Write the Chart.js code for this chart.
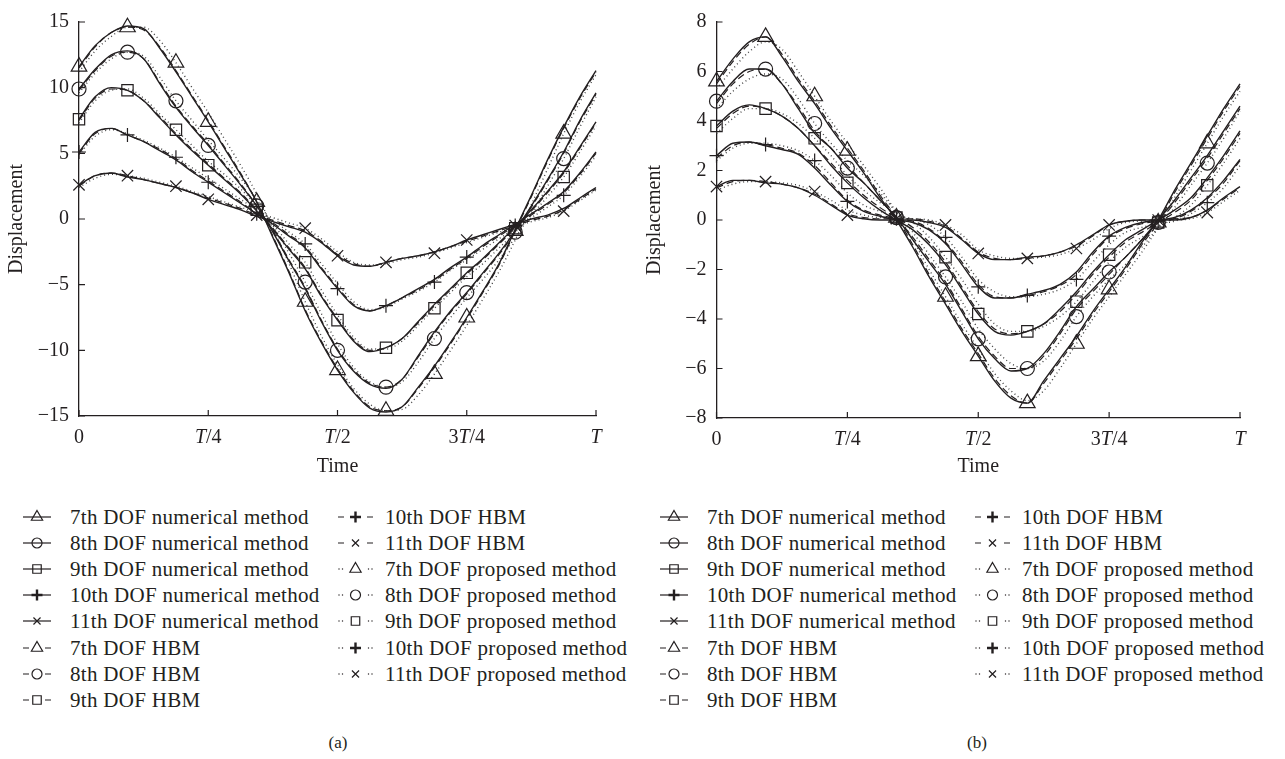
<!DOCTYPE html>
<html lang="en">
<head>
<meta charset="UTF-8">
<title>Displacement vs time</title>
<script src="https://cdn.jsdelivr.net/npm/chart.js"></script>
<style>
  body { margin: 0; width: 1285px; height: 759px; background: #fff; position: relative; overflow: hidden;
         font-family: "Liberation Serif", "DejaVu Serif", serif; color: #231f20; }
  .panel { position: absolute; top: 0; }
  .leg-sym { position: absolute; }
  .leg-text { position: absolute; height: 26px; line-height: 26px; font-size: 21px; letter-spacing: 0.3px; white-space: nowrap; }
  .caption { position: absolute; top: 733px; font-size: 17px; transform: translateX(-50%); }
</style>
</head>
<body>
<canvas id="chartA" class="panel" width="640" height="480" style="left:0px"></canvas>
<canvas id="chartB" class="panel" width="647" height="480" style="left:638px"></canvas>
<div id="legend"></div>
<div class="caption" style="left:338px">(a)</div>
<div class="caption" style="left:977px">(b)</div>
<script>
// time in fractions of the period T
const t = [0, 0.03125, 0.0625, 0.09375, 0.125, 0.15625, 0.1875, 0.21875, 0.25, 0.28125, 0.3125,
  0.34375, 0.375, 0.40625, 0.4375, 0.46875, 0.5, 0.53125, 0.5625, 0.59375, 0.625, 0.65625, 0.6875,
  0.71875, 0.75, 0.78125, 0.8125, 0.84375, 0.875, 0.90625, 0.9375, 0.96875, 1];
const xTickValues = [0, 0.25, 0.5, 0.75, 1];
const xTickLabels = ['0', 'T/4', 'T/2', '3T/4', 'T'];

// panel (a) - numerical method
const n7a = [11.6,13.2,14.2,14.7,14.5,13.0,11.2,9.3,7.4,5.4,3.4,1.3,-1.4,-4.1,-7.0,-9.4,-11.5,-13.2,-14.4,-14.7,-14.3,-12.8,-11.2,-9.4,-7.5,-5.5,-3.4,-0.8,1.8,4.5,7.0,9.3,11.3];
const n8a = [9.9,11.4,12.5,12.8,12.2,10.3,8.5,7.0,5.6,4.1,2.6,1.0,-1.0,-3.2,-5.3,-7.8,-10.0,-11.6,-12.6,-12.9,-12.2,-10.4,-8.6,-7.0,-5.6,-4.1,-2.6,-0.9,1.0,3.0,5.1,7.5,9.6];
const n9a = [7.6,9.3,10.0,9.8,9.0,7.7,6.4,5.2,4.1,3.0,1.9,0.6,-0.8,-2.3,-3.8,-5.9,-7.7,-9.3,-10.1,-9.8,-9.1,-7.8,-6.5,-5.3,-4.1,-3.0,-1.8,-0.6,0.7,2.1,3.6,5.5,7.4];
const n10a = [5.1,6.6,6.9,6.4,5.9,5.2,4.5,3.6,2.8,2.0,1.2,0.4,-0.4,-1.3,-2.2,-3.8,-5.3,-6.6,-7.0,-6.6,-6.0,-5.3,-4.6,-3.7,-2.9,-2.0,-1.2,-0.4,0.4,1.2,2.1,3.5,5.1];
const n11a = [2.6,3.3,3.5,3.2,3.0,2.7,2.4,2.0,1.5,1.1,0.7,0.2,-0.2,-0.6,-1.0,-1.8,-2.8,-3.5,-3.6,-3.3,-3.0,-2.8,-2.5,-2.1,-1.6,-1.2,-0.8,-0.4,0.0,0.3,0.8,1.6,2.4];
// panel (a) - HBM
const h7a = [11.5,13.1,14.2,14.6,14.4,13.1,11.3,9.4,7.5,5.5,3.5,1.3,-1.3,-4.0,-6.9,-9.3,-11.4,-13.1,-14.3,-14.6,-14.3,-12.9,-11.3,-9.5,-7.6,-5.6,-3.5,-0.9,1.7,4.4,6.9,9.2,11.2];
const h8a = [9.8,11.3,12.4,12.7,12.2,10.4,8.6,7.1,5.7,4.2,2.7,1.0,-0.9,-3.1,-5.2,-7.7,-9.9,-11.5,-12.5,-12.8,-12.2,-10.5,-8.7,-7.1,-5.7,-4.2,-2.7,-1.0,0.9,2.9,5.0,7.4,9.5];
const h9a = [7.5,9.2,9.9,9.8,9.0,7.8,6.5,5.3,4.2,3.1,2.0,0.7,-0.7,-2.2,-3.7,-5.8,-7.6,-9.2,-10.0,-9.8,-9.1,-7.9,-6.6,-5.4,-4.2,-3.1,-1.9,-0.7,0.6,2.0,3.5,5.4,7.3];
const h10a = [5.0,6.5,6.9,6.4,5.9,5.3,4.6,3.7,2.9,2.1,1.3,0.4,-0.3,-1.2,-2.1,-3.7,-5.2,-6.5,-7.0,-6.6,-6.0,-5.4,-4.7,-3.8,-3.0,-2.1,-1.3,-0.5,0.3,1.1,2.0,3.4,5.0];
const h11a = [2.5,3.3,3.5,3.3,3.0,2.7,2.4,2.0,1.6,1.2,0.8,0.3,-0.1,-0.5,-0.9,-1.7,-2.7,-3.4,-3.6,-3.3,-3.0,-2.8,-2.5,-2.1,-1.7,-1.3,-0.9,-0.5,-0.1,0.2,0.7,1.5,2.3];
// panel (a) - proposed method
const p7a = [11.2,12.8,13.9,14.6,14.6,13.6,11.9,10.0,8.1,6.1,4.1,1.9,-0.7,-3.4,-6.3,-8.9,-11.1,-12.9,-14.1,-14.6,-14.5,-13.4,-11.8,-10.0,-8.1,-6.1,-4.0,-1.6,1.1,3.8,6.5,8.9,11.0];
const p8a = [9.6,11.1,12.2,12.7,12.4,10.8,9.0,7.5,6.0,4.6,3.1,1.5,-0.5,-2.6,-4.8,-7.2,-9.5,-11.3,-12.4,-12.8,-12.4,-10.9,-9.1,-7.5,-6.0,-4.6,-3.1,-1.4,0.4,2.5,4.6,7.0,9.3];
const p9a = [7.3,9.0,9.8,9.9,9.2,8.0,6.8,5.6,4.4,3.4,2.3,1.0,-0.4,-1.9,-3.3,-5.4,-7.3,-9.0,-9.9,-9.9,-9.3,-8.1,-6.8,-5.6,-4.4,-3.4,-2.2,-1.0,0.3,1.7,3.2,5.1,7.1];
const p10a = [4.9,6.3,6.8,6.5,6.0,5.4,4.7,3.9,3.1,2.3,1.5,0.7,-0.1,-1.0,-1.9,-3.4,-4.9,-6.3,-6.9,-6.7,-6.1,-5.5,-4.8,-3.9,-3.1,-2.3,-1.5,-0.7,0.1,0.9,1.8,3.2,4.8];
const p11a = [2.4,3.1,3.4,3.3,3.1,2.8,2.5,2.1,1.7,1.3,0.9,0.5,0.1,-0.3,-0.7,-1.5,-2.5,-3.3,-3.5,-3.4,-3.1,-2.9,-2.6,-2.2,-1.8,-1.4,-1.0,-0.6,-0.2,0.1,0.6,1.4,2.2];

// panel (b) - numerical method
const n7b = [5.6,6.5,7.2,7.4,6.6,5.6,4.7,3.7,2.8,1.9,0.9,0.0,-1.1,-2.3,-3.4,-4.5,-5.5,-6.5,-7.2,-7.4,-6.5,-5.6,-4.7,-3.7,-2.8,-1.9,-0.9,0.0,1.2,2.3,3.4,4.5,5.5];
const n8b = [4.8,5.6,6.1,6.1,5.5,4.5,3.5,2.9,2.1,1.5,0.8,0.1,-0.8,-1.7,-2.6,-3.7,-4.8,-5.6,-6.1,-6.0,-5.4,-4.5,-3.5,-2.8,-2.1,-1.5,-0.8,0.0,0.8,1.7,2.6,3.6,4.6];
const n9b = [3.8,4.4,4.65,4.5,4.2,3.7,3.0,2.2,1.5,0.9,0.4,0.0,-0.4,-1.0,-1.8,-2.8,-3.8,-4.5,-4.65,-4.5,-4.2,-3.6,-2.9,-2.1,-1.4,-0.8,-0.4,0.0,0.4,0.9,1.7,2.6,3.6];
const n10b = [2.6,3.1,3.15,3.0,2.85,2.65,2.1,1.4,0.75,0.35,0.15,0.0,-0.1,-0.4,-0.95,-1.8,-2.7,-3.15,-3.15,-3.0,-2.85,-2.6,-2.1,-1.3,-0.65,-0.3,-0.1,0.0,0.1,0.4,0.9,1.6,2.45];
const n11b = [1.35,1.6,1.6,1.5,1.45,1.3,1.0,0.6,0.2,0.05,0.0,0.0,0.0,-0.1,-0.3,-0.8,-1.35,-1.6,-1.6,-1.5,-1.45,-1.3,-1.0,-0.6,-0.2,-0.05,0.0,0.0,0.0,0.1,0.4,0.9,1.35];
// panel (b) - HBM
const h7b = [5.5,6.4,7.1,7.4,6.7,5.7,4.8,3.8,2.9,2.0,1.0,0.1,-1.0,-2.2,-3.3,-4.4,-5.4,-6.4,-7.1,-7.4,-6.6,-5.7,-4.8,-3.8,-2.9,-2.0,-1.0,-0.1,1.1,2.2,3.3,4.4,5.4];
const h8b = [4.7,5.5,6.0,6.1,5.5,4.6,3.6,2.9,2.2,1.5,0.8,0.1,-0.7,-1.6,-2.5,-3.6,-4.7,-5.5,-6.0,-6.0,-5.5,-4.6,-3.6,-2.9,-2.2,-1.5,-0.8,-0.1,0.7,1.6,2.5,3.5,4.5];
const h9b = [3.7,4.3,4.6,4.5,4.2,3.7,3.0,2.3,1.6,1.0,0.5,0.1,-0.3,-0.9,-1.7,-2.7,-3.7,-4.4,-4.6,-4.5,-4.2,-3.7,-3.0,-2.2,-1.5,-0.9,-0.5,-0.1,0.3,0.8,1.6,2.5,3.5];
const h10b = [2.5,3.0,3.15,3.05,2.9,2.7,2.2,1.5,0.8,0.4,0.2,0.05,-0.05,-0.35,-0.9,-1.7,-2.6,-3.1,-3.15,-3.05,-2.9,-2.65,-2.2,-1.4,-0.7,-0.35,-0.15,-0.05,0.05,0.35,0.85,1.5,2.4];
const h11b = [1.3,1.55,1.6,1.55,1.45,1.3,1.05,0.65,0.25,0.1,0.05,0.05,0.05,-0.05,-0.25,-0.75,-1.3,-1.55,-1.6,-1.55,-1.45,-1.3,-1.05,-0.65,-0.2,-0.05,0.0,0.0,0.05,0.1,0.4,0.85,1.3];
// panel (b) - proposed method
const p7b = [5.3,6.1,6.8,7.2,6.9,6.0,5.0,4.0,3.1,2.2,1.3,0.3,-0.8,-2.0,-3.1,-4.2,-5.2,-6.2,-6.9,-7.3,-6.9,-6.0,-5.0,-4.0,-3.1,-2.2,-1.3,-0.3,0.9,2.0,3.1,4.2,5.2];
const p8b = [4.5,5.2,5.7,5.9,5.7,4.9,3.9,3.1,2.4,1.8,1.1,0.3,-0.5,-1.4,-2.3,-3.3,-4.4,-5.2,-5.8,-6.0,-5.7,-4.9,-3.9,-3.1,-2.4,-1.8,-1.1,-0.3,0.5,1.4,2.3,3.3,4.4];
const p9b = [3.5,4.1,4.5,4.5,4.3,3.9,3.3,2.6,1.8,1.2,0.7,0.3,-0.1,-0.7,-1.5,-2.4,-3.4,-4.2,-4.5,-4.5,-4.3,-3.9,-3.3,-2.5,-1.7,-1.1,-0.7,-0.3,0.1,0.6,1.4,2.3,3.3];
const p10b = [2.4,2.9,3.1,3.1,3.0,2.8,2.4,1.8,1.1,0.6,0.35,0.15,0.05,-0.2,-0.7,-1.5,-2.4,-2.9,-3.1,-3.1,-3.0,-2.8,-2.4,-1.7,-1.0,-0.5,-0.3,-0.15,-0.05,0.25,0.7,1.3,2.2];
const p11b = [1.2,1.45,1.55,1.55,1.5,1.4,1.15,0.8,0.4,0.2,0.1,0.1,0.05,0.0,-0.2,-0.6,-1.2,-1.45,-1.55,-1.55,-1.5,-1.4,-1.15,-0.8,-0.35,-0.1,-0.05,-0.05,0.0,0.05,0.3,0.75,1.2];

const dofLabels = ['7th', '8th', '9th', '10th', '11th'];
const methodKeys = ['numerical', 'HBM', 'proposed'];
const methodNames = { numerical: 'numerical method', HBM: 'HBM', proposed: 'proposed method' };
const markerIdx = { numerical: [0, 8, 16, 24], HBM: [3, 11, 19, 27], proposed: [6, 14, 22, 30] };

const panelA = { numerical: [n7a, n8a, n9a, n10a, n11a], HBM: [h7a, h8a, h9a, h10a, h11a], proposed: [p7a, p8a, p9a, p10a, p11a] };
const panelB = { numerical: [n7b, n8b, n9b, n10b, n11b], HBM: [h7b, h8b, h9b, h10b, h11b], proposed: [p7b, p8b, p9b, p10b, p11b] };

const INK = '#231f20';
const FONT = '"Liberation Serif", "DejaVu Serif", serif';
const lineStyle = {
  numerical: { color: INK, width: 1.4, dash: [] },
  HBM: { color: INK, width: 1.2, dash: [7, 4] },
  proposed: { color: '#444', width: 1.4, dash: [1, 3] }
};
// marker per DOF: chart radius, legend radius
const markers = [
  { style: 'triangle', r: 9, lr: 6.5 },
  { style: 'circle', r: 7, lr: 5 },
  { style: 'rect', r: 8, lr: 6 },
  { style: 'cross', r: 7, lr: 5.5 },
  { style: 'crossRot', r: 8, lr: 5 }
];

function buildDatasets(panel) {
  const sets = [];
  methodKeys.forEach(m => {
    panel[m].forEach((vals, d) => {
      const mk = markers[d];
      sets.push({
        label: dofLabels[d] + ' DOF ' + methodNames[m],
        data: vals.map((v, i) => ({ x: t[i], y: v })),
        borderColor: lineStyle[m].color,
        borderWidth: lineStyle[m].width,
        borderDash: lineStyle[m].dash,
        cubicInterpolationMode: 'monotone',
        fill: false,
        clip: false,
        pointStyle: mk.style,
        pointRadius: ctx => markerIdx[m].includes(ctx.dataIndex) ? mk.r : 0,
        pointHoverRadius: 0,
        pointBorderColor: INK,
        pointBackgroundColor: 'rgba(0,0,0,0)',
        pointBorderWidth: 1.2
      });
    });
  });
  return sets;
}

// x tick labels with italic T, plus inward tick marks
const axisDeco = {
  id: 'axisDeco',
  afterDraw(chart) {
    const ctx = chart.ctx, xs = chart.scales.x, ys = chart.scales.y;
    ctx.save();
    ctx.strokeStyle = INK;
    ctx.lineWidth = 1.2;
    ctx.beginPath();
    xs.ticks.forEach(tk => {
      const px = xs.getPixelForValue(tk.value);
      ctx.moveTo(px, xs.top); ctx.lineTo(px, xs.top - 6);
    });
    ys.ticks.forEach(tk => {
      const py = ys.getPixelForValue(tk.value);
      ctx.moveTo(ys.right, py); ctx.lineTo(ys.right + 6, py);
    });
    ctx.stroke();

    ctx.fillStyle = INK;
    ctx.textBaseline = 'middle';
    ctx.textAlign = 'left';
    xs.ticks.forEach((tk, i) => {
      const parts = xTickLabels[i].split(/(T)/).filter(s => s);
      const fonts = parts.map(p => (p === 'T' ? 'italic ' : '') + '20px ' + FONT);
      let w = 0;
      parts.forEach((p, j) => { ctx.font = fonts[j]; w += ctx.measureText(p).width; });
      let x = xs.getPixelForValue(tk.value) - w / 2;
      const y = xs.top + 22;
      parts.forEach((p, j) => { ctx.font = fonts[j]; ctx.fillText(p, x, y); x += ctx.measureText(p).width; });
    });
    ctx.restore();
  }
};

function makeChart(id, panel, yMax, yStep, padTop, padRight, yWidth, xHeight) {
  new Chart(document.getElementById(id), {
    type: 'line',
    data: { datasets: buildDatasets(panel) },
    options: {
      responsive: false,
      animation: false,
      events: [],
      layout: { padding: { left: 0, right: padRight, top: padTop, bottom: 0 } },
      plugins: { legend: { display: false }, tooltip: { enabled: false } },
      scales: {
        x: {
          type: 'linear', min: 0, max: 1,
          afterBuildTicks: s => { s.ticks = xTickValues.map(v => ({ value: v })); },
          afterFit: s => { s.height = xHeight; },
          ticks: { display: false },
          grid: { drawOnChartArea: false, drawTicks: false },
          border: { display: true, color: INK, width: 1.3 },
          title: { display: true, text: 'Time', color: INK, font: { family: FONT, size: 20 }, padding: { top: 0, bottom: 1 } }
        },
        y: {
          min: -yMax, max: yMax,
          afterFit: s => { s.width = yWidth; },
          ticks: {
            stepSize: yStep, padding: 10, color: INK, font: { family: FONT, size: 20 },
            callback: v => String(v).replace('-', '\u2212')
          },
          grid: { drawOnChartArea: false, drawTicks: false },
          border: { display: true, color: INK, width: 1.3 },
          title: { display: true, text: 'Displacement', color: INK, font: { family: FONT, size: 20 }, padding: { top: 5, bottom: 0 } }
        }
      }
    },
    plugins: [axisDeco]
  });
}

makeChart('chartA', panelA, 15, 5, 13, 44, 79, 64);
makeChart('chartB', panelB, 8, 2, 10, 45, 78.5, 62);

// legend: symbol drawn with the same point styles
function drawSymbol(cv, m, mk, span) {
  const ctx = cv.getContext('2d');
  const cy = cv.height / 2, x0 = 1, x1 = 1 + span, cx = (x0 + x1) / 2;
  ctx.strokeStyle = INK;
  ctx.fillStyle = INK;
  ctx.lineWidth = 1.2;
  ctx.beginPath();
  if (m === 'numerical') {
    ctx.moveTo(x0, cy); ctx.lineTo(x1, cy);
    ctx.stroke();
  } else if (m === 'HBM') {
    ctx.moveTo(x0, cy); ctx.lineTo(x0 + 6, cy);
    ctx.moveTo(x1 - 6, cy); ctx.lineTo(x1, cy);
    ctx.stroke();
  } else {
    [x0 + 1, x0 + 4.5, x1 - 4.5, x1 - 1].forEach(x => ctx.fillRect(x - 0.6, cy - 0.6, 1.2, 1.2));
  }
  ctx.fillStyle = 'rgba(0,0,0,0)';
  ctx.lineWidth = (mk.style === 'cross') ? 2.4 : 1.2;
  Chart.helpers.drawPoint(ctx, { pointStyle: mk.style, radius: mk.lr, rotation: 0, borderWidth: ctx.lineWidth }, cx, cy);
}

function buildLegend(ox) {
  const host = document.getElementById('legend');
  const entries = [];
  methodKeys.forEach(m => dofLabels.forEach((d, i) => entries.push({ m, i, text: d + ' DOF ' + methodNames[m] })));
  entries.forEach((e, k) => {
    const col = k < 8 ? 0 : 1;
    const row = col === 0 ? k : k - 8;
    const cy = 517 + 26.1 * row;
    const symX = ox + (col === 0 ? 22 : 337);
    const span = col === 0 ? 28 : 35;
    const textX = ox + (col === 0 ? 70 : 385);
    const cv = document.createElement('canvas');
    cv.width = span + 2; cv.height = 24;
    cv.className = 'leg-sym';
    cv.style.left = symX + 'px';
    cv.style.top = (cy - 12) + 'px';
    host.appendChild(cv);
    drawSymbol(cv, e.m, markers[e.i], span);
    const tx = document.createElement('div');
    tx.className = 'leg-text';
    tx.style.left = textX + 'px';
    tx.style.top = (cy - 13) + 'px';
    tx.textContent = e.text;
    host.appendChild(tx);
  });
}
buildLegend(0);
buildLegend(637);
</script>
</body>
</html>
